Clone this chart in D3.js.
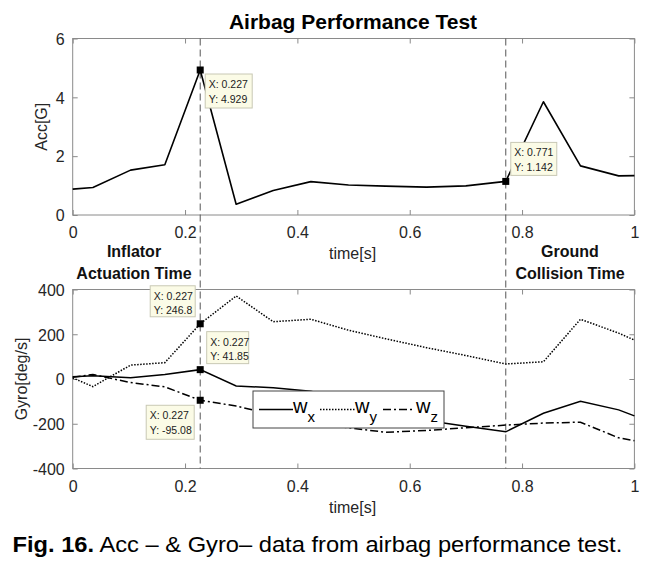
<!DOCTYPE html>
<html><head><meta charset="utf-8">
<script src="https://cdn.jsdelivr.net/npm/d3@7"></script>
<style>body{margin:0;background:#fff}svg{display:block}</style>
</head><body>
<svg id="c" width="655" height="563"></svg>
<script>
// ---- data ----
const time = [0, 0.036, 0.103, 0.164, 0.227, 0.291, 0.357, 0.424, 0.491, 0.557, 0.630, 0.700, 0.771, 0.838, 0.904, 0.972, 1.0];
const acc  = [0.88, 0.935, 1.525, 1.71, 4.929, 0.367, 0.835, 1.135, 1.02, 0.98, 0.946, 0.99, 1.142, 3.85, 1.67, 1.33, 1.34];
const wx   = [10, 14, 6, 20, 41.85, -31, -39, -55, -96, -137, -185, -211, -236, -153, -100, -138, -165];
const wy   = [5, -34, 62, 73, 246.8, 371, 256, 267, 218, 180, 140, 105, 67, 77, 267, 205, 174];
const wz   = [8, 20, -16, -35, -95.08, -121, -160, -195, -218, -238, -230, -218, -206, -197, -193, -263, -276];
const xTicks = [0, 0.2, 0.4, 0.6, 0.8, 1];
const xTickLabels = ["0", "0.2", "0.4", "0.6", "0.8", "1"];
const accTicks = [0, 2, 4, 6];
const accTickLabels = ["0", "2", "4", "6"];
const gyroTicks = [-400, -200, 0, 200, 400];
const gyroTickLabels = ["-400", "-200", "0", "200", "400"];
const eventTimes = [0.227, 0.771];
const eventLabels = [["Inflator", "Actuation Time"], ["Ground", "Collision Time"]];
const legendNames = ["x", "y", "z"];
// data tips: [time, value]
const accTips = [[0.227, 4.929], [0.771, 1.142]];
const gyroTips = [[0.227, 246.8], [0.227, 41.85], [0.227, -95.08]];
const accTipLabels = [["X: 0.227", "Y: 4.929"], ["X: 0.771", "Y: 1.142"]];
const gyroTipLabels = [["X: 0.227", "Y: 246.8"], ["X: 0.227", "Y: 41.85"], ["X: 0.227", "Y: -95.08"]];
const title = "Airbag Performance Test";
const caption = ["Fig. 16.", " Acc \u2013 & Gyro\u2013 data from airbag performance test."];

// ---- layout ----
const svg = d3.select("#c");
const FONT = "'Liberation Sans', Arial, Helvetica, sans-serif";
const L = 72.7, R = 634.4;
const top1 = 38.5, bot1 = 215, top2 = 289.5, bot2 = 468.5;
const x = d3.scaleLinear().domain([0, 1]).range([L, R]);
const yA = d3.scaleLinear().domain([0, 6]).range([bot1, top1]);
const yG = d3.scaleLinear().domain([-400, 400]).range([bot2, top2]);
const axisCol = "#8a8a8a", textCol = "#262626";

function panel(y, yTicks, yTickLabels, top, bot, ylabel, ylabelX) {
  const g = svg.append("g");
  g.append("rect").attr("x", L).attr("y", top).attr("width", R - L).attr("height", bot - top)
    .attr("fill", "none").attr("stroke", axisCol).attr("stroke-width", 1);
  const ax = d3.axisBottom(x).tickValues(xTicks).tickFormat((d, i) => xTickLabels[i]).tickSizeInner(-5).tickSizeOuter(0);
  const gb = g.append("g").attr("transform", `translate(0,${bot})`).call(ax);
  const gt = g.append("g").attr("transform", `translate(0,${top})`).call(d3.axisTop(x).tickValues(xTicks).tickSizeInner(-5).tickSizeOuter(0).tickFormat(""));
  const gl = g.append("g").attr("transform", `translate(${L},0)`).call(d3.axisLeft(y).tickValues(yTicks).tickFormat((d, i) => yTickLabels[i]).tickSizeInner(-5).tickSizeOuter(0).tickPadding(8));
  const gr = g.append("g").attr("transform", `translate(${R},0)`).call(d3.axisRight(y).tickValues(yTicks).tickSizeInner(-5).tickSizeOuter(0).tickFormat(""));
  [gb, gt, gl, gr].forEach(a => {
    a.select(".domain").remove();
    a.selectAll(".tick line").attr("stroke", axisCol);
    a.selectAll("text").attr("font-family", FONT).attr("font-size", 16).attr("fill", textCol);
  });
  gb.selectAll("text").attr("dy", null).attr("y", 23);
  gl.selectAll("text").attr("dy", "0.36em");
  g.append("text").attr("transform", `translate(${ylabelX},${(top + bot) / 2}) rotate(-90)`).attr("text-anchor", "middle")
    .attr("font-family", FONT).attr("font-size", 16).attr("fill", textCol).text(ylabel);
  g.append("text").attr("x", (L + R) / 2 - 1).attr("y", bot + 44).attr("text-anchor", "middle")
    .attr("font-family", FONT).attr("font-size", 16).attr("fill", textCol).text("time[s]");
}
panel(yA, accTicks, accTickLabels, top1, bot1, "Acc[G]", 47);
panel(yG, gyroTicks, gyroTickLabels, top2, bot2, "Gyro[deg/s]", 27);

// title
svg.append("text").attr("x", 353).attr("y", 29).attr("text-anchor", "middle")
  .attr("font-family", FONT).attr("font-weight", "bold").attr("font-size", 21).attr("fill", "#000").text(title);

// event dashed lines
svg.selectAll(".ev").data(eventTimes).enter().append("line")
  .attr("x1", d => x(d)).attr("x2", d => x(d)).attr("y1", top1).attr("y2", bot2)
  .attr("stroke", "#555").attr("stroke-width", 1).attr("stroke-dasharray", "7,4");
const evCenters = [134, 570];
eventLabels.forEach((lines, i) => {
  lines.forEach((t, j) => {
    svg.append("text").attr("x", evCenters[i]).attr("y", 257 + j * 22).attr("text-anchor", "middle")
      .attr("font-family", FONT).attr("font-weight", "bold").attr("font-size", 16).attr("fill", "#111").text(t);
  });
});

// lines
const lineA = d3.line().x((d, i) => x(time[i])).y(d => yA(d));
const lineG = d3.line().x((d, i) => x(time[i])).y(d => yG(d));
svg.append("path").attr("d", lineA(acc)).attr("fill", "none").attr("stroke", "#000").attr("stroke-width", 1.6).attr("stroke-linejoin", "round");
const styles = [null, "1.5,1.5", "8,3,2,3"];
[wx, wy, wz].forEach((s, k) => {
  const p = svg.append("path").attr("d", lineG(s)).attr("fill", "none").attr("stroke", "#000").attr("stroke-width", 1.5);
  if (styles[k]) p.attr("stroke-dasharray", styles[k]);
});

// legend
const lg = svg.append("g").attr("transform", "translate(253,391)");
lg.append("rect").attr("width", 191).attr("height", 37).attr("fill", "#fff").attr("stroke", "#444").attr("stroke-width", 1);
const legItems = [[6, 40, 43], [67, 103, 105], [130, 162, 166]];
legendNames.forEach((n, k) => {
  const [x0, x1, tx] = legItems[k];
  const ln = lg.append("line").attr("x1", x0).attr("x2", x1).attr("y1", 18.5).attr("y2", 18.5).attr("stroke", "#000").attr("stroke-width", 1.5);
  if (styles[k]) ln.attr("stroke-dasharray", styles[k]);
  const t = lg.append("text").attr("x", tx - 3).attr("y", 22).attr("font-family", FONT).attr("font-size", 20).attr("fill", "#000");
  t.append("tspan").text("w");
  t.append("tspan").attr("dy", 9).attr("font-size", 15).text(n);
});

// data tips
function tip(px, py, lines, dx, dy, w, h) {
  const g = svg.append("g");
  g.append("rect").attr("x", px + dx).attr("y", py + dy).attr("width", w).attr("height", h)
    .attr("fill", "#fbfbe6").attr("stroke", "#c8c8b4").attr("stroke-width", 1);
  lines.forEach((t, j) => g.append("text").attr("x", px + dx + 3.5).attr("y", py + dy + 14 + j * 14.5)
    .attr("font-family", FONT).attr("font-size", 10.5).attr("fill", "#222").text(t));
  g.append("rect").attr("x", px - 3.5).attr("y", py - 3.5).attr("width", 7).attr("height", 7).attr("fill", "#000");
}
const accOff = [[5, 4, 47, 34], [5, -39, 46, 33]];
accTips.forEach((d, i) => tip(x(d[0]), yA(d[1]), accTipLabels[i], ...accOff[i]));
const gyroOff = [[-50, -38, 45, 31], [6.5, -38, 42, 32], [-54, 5, 48, 34]];
gyroTips.forEach((d, i) => tip(x(d[0]), yG(d[1]), gyroTipLabels[i], ...gyroOff[i]));

// caption
const cap = svg.append("text").attr("x", 12.5).attr("y", 552).attr("font-family", FONT).attr("font-size", 22).attr("fill", "#000");
cap.append("tspan").attr("font-weight", "bold").text(caption[0]);
cap.append("tspan").text(caption[1]);
const w = cap.node().getComputedTextLength();
cap.attr("transform", `translate(12.5,0) scale(${610 / w},1) translate(-12.5,0)`);
</script>
</body></html>
